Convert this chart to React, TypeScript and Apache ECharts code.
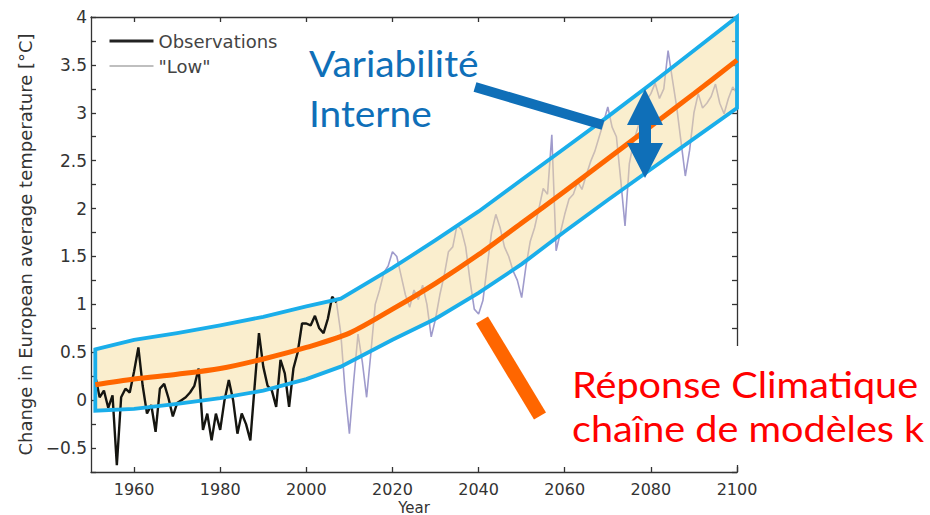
import React, { useEffect, useRef } from "react";
import * as echarts from "echarts";

// ---- Data ----
const xTickYears = [1960, 1980, 2000, 2020, 2040, 2060, 2080, 2100];
const yTickValues = [-0.5, 0, 0.5, 1, 1.5, 2, 2.5, 3, 3.5, 4];

// Observations, one value per year from 1951
const obsStartYear = 1951;
const obsValues = [
  0.25, 0.03, 0.10, -0.08, 0.05, -0.68, 0.03, 0.12, 0.08, 0.30,
  0.55, 0.15, -0.14, -0.05, -0.33, 0.12, 0.17, 0.02, -0.17, -0.03,
  0.0, 0.03, 0.08, 0.15, 0.33, -0.31, -0.14, -0.42, -0.14, -0.31,
  0.0, 0.21, 0.0, -0.35, -0.14, -0.25, -0.42, 0.15, 0.70, 0.35,
  0.15, 0.10, -0.07, 0.42, 0.28, -0.07, 0.33, 0.50, 0.80, 0.80,
  0.78, 0.88, 0.75, 0.70, 0.85, 1.08, 1.02,
];

// "Low" simulation, one value per year from 2007
const lowStartYear = 2007;
const lowValues = [
  1.02, 0.70, 0.10, -0.35, 0.20, 0.69, 0.40, 0.03, 0.50, 1.00,
  1.15, 1.33, 1.40, 1.55, 1.50, 1.30, 1.10, 0.97, 1.15, 1.05,
  1.20, 1.00, 0.66, 0.85, 1.10, 1.30, 1.55, 1.60, 1.83, 1.78,
  1.60, 1.25, 0.95, 0.90, 1.04, 1.40, 1.75, 1.94, 1.80, 1.60,
  1.50, 1.35, 1.25, 1.07, 1.40, 1.66, 1.80, 2.00, 2.21, 2.15,
  2.77, 1.56, 1.75, 1.94, 2.10, 2.15, 2.28, 2.20, 2.35, 2.49,
  2.60, 2.75, 2.90, 3.06, 2.85, 2.75, 2.30, 1.82, 2.47, 2.70,
  2.85, 3.00, 3.13, 3.20, 3.31, 3.15, 3.25, 3.65, 3.35, 3.06,
  2.70, 2.34, 2.61, 3.00, 3.20, 3.05, 3.10, 3.17, 3.30, 3.10,
  2.99, 3.15, 3.27, 3.20,
];

// Internal variability envelope
const bandYears = [1951, 1960, 1970, 1980, 1990, 2000, 2008, 2020, 2030, 2040, 2050, 2060, 2070, 2080, 2090, 2100];
const bandUpper = [0.53, 0.63, 0.70, 0.78, 0.87, 0.98, 1.06, 1.38, 1.67, 1.97, 2.30, 2.63, 2.96, 3.30, 3.65, 4.0];
const bandLower = [-0.11, -0.09, -0.04, 0.02, 0.10, 0.22, 0.35, 0.63, 0.85, 1.12, 1.42, 1.76, 2.09, 2.41, 2.73, 3.05];

// Climate response (model chain k)
const centerYears = [1951, 1960, 1970, 1980, 1990, 2000, 2010, 2020, 2030, 2040, 2050, 2060, 2070, 2080, 2090, 2100];
const centerValues = [0.16, 0.22, 0.27, 0.33, 0.43, 0.55, 0.70, 0.95, 1.22, 1.52, 1.85, 2.18, 2.52, 2.86, 3.20, 3.55];

const obsData = obsValues.map((v, i) => [obsStartYear + i, v]);
const lowData = lowValues.map((v, i) => [lowStartYear + i, v]);
const centerData = centerYears.map((y, i) => [y, centerValues[i]]);
const bandPoly = [
  ...bandYears.map((y, i) => [y, bandUpper[i]]),
  ...bandYears.map((y, i) => [y, bandLower[i]]).reverse(),
];

const AXIS_FONT = "DejaVu Sans";
const ANNOT_FONT = "Lato";

export default function App() {
  const ref = useRef<HTMLDivElement>(null);

  useEffect(() => {
    if (!ref.current) return;
    const chart = echarts.init(ref.current, null, { renderer: "svg" });

    const axisLineStyle = { color: "#333", width: 1.3 };

    const option: any = {
      animation: false,
      backgroundColor: "#ffffff",
      grid: {
        left: 91,
        right: 193,
        top: 17,
        bottom: 43,
        containLabel: false,
        outerBoundsMode: "none",
      },
      legend: {
        orient: "vertical",
        left: 103,
        top: 27,
        itemWidth: 44,
        itemHeight: 14,
        itemGap: 7,
        itemStyle: { opacity: 0 },
        data: [
          { name: "Observations", lineStyle: { width: 3, color: "#222" } },
          { name: '"Low"', lineStyle: { width: 1.5, color: "#aaa" } },
        ],
        textStyle: { fontFamily: AXIS_FONT, fontSize: 18, color: "#444" },
      },
      xAxis: [
        {
          type: "value",
          min: 1950,
          max: 2100,
          name: "Year",
          nameLocation: "middle",
          nameGap: 28,
          nameMoveOverlap: false,
          nameTextStyle: { fontFamily: AXIS_FONT, fontSize: 15, color: "#333", lineHeight: 15 },
          axisLine: { onZero: false, lineStyle: axisLineStyle },
          axisTick: { inside: true, length: 5, customValues: xTickYears, lineStyle: axisLineStyle },
          axisLabel: {
            customValues: xTickYears,
            fontFamily: AXIS_FONT,
            fontSize: 16,
            lineHeight: 16,
            color: "#333",
            margin: 9,
            formatter: (v: number) => String(v),
          },
          splitLine: { show: false },
        },
        {
          type: "value",
          position: "top",
          min: 1950,
          max: 2100,
          axisLine: { onZero: false, lineStyle: axisLineStyle },
          axisTick: { inside: true, length: 5, customValues: xTickYears, lineStyle: axisLineStyle },
          axisLabel: { show: false },
          splitLine: { show: false },
        },
      ],
      yAxis: [
        {
          type: "value",
          min: -0.75,
          max: 4,
          interval: 0.25,
          name: "Change in European average temperature [°C]",
          nameLocation: "middle",
          nameGap: 57,
          nameMoveOverlap: false,
          nameTextStyle: { fontFamily: AXIS_FONT, fontSize: 18, color: "#333" },
          axisLine: { show: true, onZero: false, lineStyle: axisLineStyle },
          axisTick: { show: true, inside: true, length: 5, lineStyle: axisLineStyle },
          axisLabel: {
            customValues: yTickValues,
            fontFamily: AXIS_FONT,
            fontSize: 17,
            color: "#333",
            margin: 4,
            formatter: (v: number) => String(v).replace("-", "\u2212"),
          },
          splitLine: { show: false },
        },
        {
          type: "value",
          position: "right",
          min: -0.75,
          max: 4,
          interval: 0.25,
          axisLine: { show: true, onZero: false, lineStyle: axisLineStyle },
          axisTick: { show: true, inside: true, length: 5, lineStyle: axisLineStyle },
          axisLabel: { show: false },
          splitLine: { show: false },
        },
      ],
      series: [
        {
          name: '"Low"',
          type: "line",
          data: lowData,
          symbol: "none",
          z: 1,
          lineStyle: { color: "#9f9bcc", width: 1.6 },
          itemStyle: { color: "#9f9bcc" },
        },
        {
          name: "band",
          type: "custom",
          data: [[1951, 0.5]],
          encode: { x: 0, y: 1 },
          z: 2,
          silent: true,
          renderItem: (_params: any, api: any) => ({
            type: "polygon",
            shape: { points: bandPoly.map((p) => api.coord(p)) },
            style: { fill: "rgba(246,222,158,0.5)", stroke: null },
          }),
        },
        {
          name: "Observations",
          type: "line",
          data: obsData,
          symbol: "none",
          z: 3,
          lineStyle: { color: "#151510", width: 2.4 },
          itemStyle: { color: "#151510" },
        },
        {
          name: "border",
          type: "custom",
          data: [[1951, 0.5]],
          encode: { x: 0, y: 1 },
          z: 4,
          silent: true,
          renderItem: (_params: any, api: any) => ({
            type: "polygon",
            shape: { points: bandPoly.map((p) => api.coord(p)) },
            style: { fill: "none", stroke: "#1aaeea", lineWidth: 3.8, lineJoin: "miter" },
          }),
        },
        {
          name: "response",
          type: "line",
          data: centerData,
          symbol: "none",
          smooth: 0.3,
          z: 5,
          lineStyle: { color: "#ff6600", width: 5 },
        },
      ],
      graphic: [
        {
          type: "line",
          z: 100,
          shape: { x1: 475, y1: 87, x2: 603, y2: 125 },
          style: { stroke: "#0f6fb8", lineWidth: 10 },
        },
        {
          type: "polygon",
          z: 100,
          shape: {
            points: [
              [645, 89], [663, 125], [651, 125], [651, 143], [663, 143],
              [645, 178], [627, 143], [639, 143], [639, 125], [627, 125],
            ],
          },
          style: { fill: "#0f6fb8" },
        },
        {
          type: "text",
          z: 100,
          x: 309,
          y: 63,
          scaleX: 1.08,
          style: {
            text: "Variabilité",
            fontFamily: ANNOT_FONT,
            fontSize: 36,
            fill: "#0f6fb8",
            verticalAlign: "middle",
          },
        },
        {
          type: "text",
          z: 100,
          x: 309,
          y: 113,
          scaleX: 1.08,
          style: {
            text: "Interne",
            fontFamily: ANNOT_FONT,
            fontSize: 36,
            fill: "#0f6fb8",
            verticalAlign: "middle",
          },
        },
        {
          type: "line",
          z: 100,
          shape: { x1: 482, y1: 320, x2: 540, y2: 416 },
          style: { stroke: "#ff6600", lineWidth: 14 },
        },
        {
          type: "rect",
          z: 100,
          shape: { x: 558, y: 346, width: 372, height: 119 },
          style: { fill: "#ffffff" },
        },
        {
          type: "text",
          z: 101,
          x: 572,
          y: 384,
          scaleX: 1.1,
          style: {
            text: "Réponse Climatique",
            fontFamily: ANNOT_FONT,
            fontSize: 36,
            fill: "#ff0000",
            verticalAlign: "middle",
          },
        },
        {
          type: "text",
          z: 101,
          x: 572,
          y: 428,
          scaleX: 1.1,
          style: {
            text: "chaîne de modèles k",
            fontFamily: ANNOT_FONT,
            fontSize: 36,
            fill: "#ff0000",
            verticalAlign: "middle",
          },
        },
      ],
    };

    chart.setOption(option);
    return () => chart.dispose();
  }, []);

  return (
    <div
      ref={ref}
      style={{ position: "absolute", left: 0, top: 0, width: 930, height: 515 }}
    />
  );
}
